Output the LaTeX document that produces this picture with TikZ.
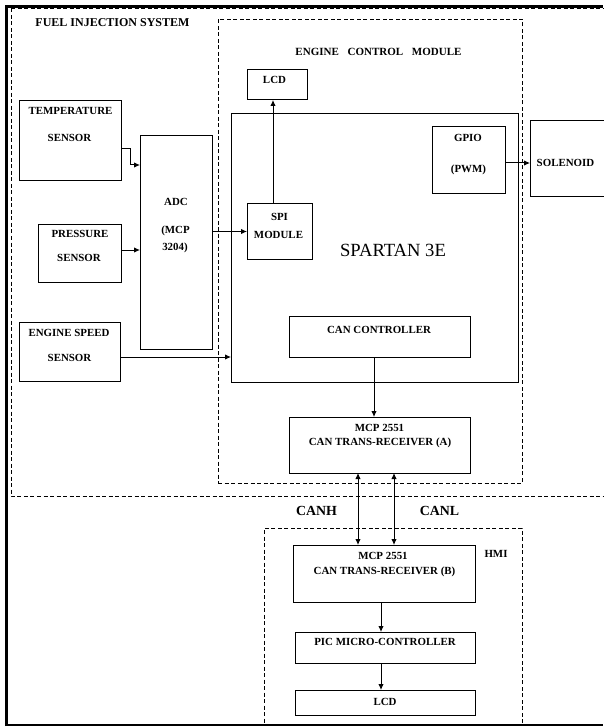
\documentclass[tikz,border=0pt]{standalone}
\usepackage{fontspec}
\setmainfont{Liberation Serif}
\usetikzlibrary{arrows.meta}
\begin{document}
\begin{tikzpicture}[x=1pt,y=-1pt,
  box/.style={draw, line width=1pt, inner sep=0pt, outer sep=0pt, anchor=north west},
  zone/.style={draw, line width=0.9pt, dash pattern=on 4pt off 2.5pt, inner sep=0pt, outer sep=0pt, anchor=north west},
  lbl/.style={inner sep=0pt, anchor=base, font=\fontsize{10.9}{12}\selectfont\bfseries},
  biglbl/.style={inner sep=0pt, anchor=base, font=\fontsize{13.9}{15}\selectfont\bfseries},
  arr/.style={line width=1pt, -{Latex[length=6pt,width=5.5pt]}},
  darr/.style={line width=1pt, {Latex[length=6pt,width=5.5pt]}-{Latex[length=6pt,width=5.5pt]}}]
\useasboundingbox (0,0) rectangle (603,727);
% outer frame
\draw[line width=0.9pt, dash pattern=on 4pt off 2.5pt] (11,8.5) -- (11,496) -- (603,496);
\draw[line width=0.9pt, dash pattern=on 4pt off 2.5pt] (11,8.5) -- (603,8.5);
\draw[line width=2.6pt] (6.5,726) -- (6.5,6.5) -- (603,6.5);
\draw[line width=1.5pt] (6.5,725) -- (603,725);
% zones
\node[zone, minimum width=304pt, minimum height=464pt] (ecm) at (218,19) {};
\node[zone, minimum width=258pt, minimum height=197pt] (hmi) at (264,528) {};
% boxes
\node[box, minimum width=60pt, minimum height=30pt] (lcdA) at (247,70) {};
\node[box, minimum width=287pt, minimum height=268pt] (spartan) at (231,114) {};
\node[box, minimum width=73pt, minimum height=67pt] (gpio) at (432,127) {};
\node[box, minimum width=90pt, minimum height=76pt] (sol) at (530,121) {};
\node[box, minimum width=102pt, minimum height=80pt] (temp) at (19,101) {};
\node[box, minimum width=72pt, minimum height=213pt] (adc) at (140,136) {};
\node[box, minimum width=83pt, minimum height=58pt] (press) at (38,224) {};
\node[box, minimum width=101pt, minimum height=59pt] (speed) at (19,322) {};
\node[box, minimum width=65pt, minimum height=55pt] (spi) at (247,204) {};
\node[box, minimum width=181pt, minimum height=41pt] (canc) at (289,316) {};
\node[box, minimum width=181pt, minimum height=56pt] (mcpa) at (289,417) {};
\node[box, minimum width=182pt, minimum height=57pt] (mcpb) at (293,545) {};
\node[box, minimum width=180pt, minimum height=31pt] (pic) at (295,632) {};
\node[box, minimum width=180pt, minimum height=25pt] (lcdB) at (295,690) {};
% labels
\node[lbl, font=\fontsize{12}{13}\selectfont\bfseries] (tfis) at (112.5,26.5) {FUEL INJECTION SYSTEM};
\node[lbl, font=\fontsize{11}{12}\selectfont\bfseries] (tecm) at (378.5,55.6) {ENGINE\hspace{6pt} CONTROL\hspace{6pt} MODULE};
\node[lbl] (tlcdA) at (274.5,83.6) {LCD};
\node[lbl] (ttemp1) at (70.5,114.1) {TEMPERATURE};
\node[lbl] (ttemp2) at (69.5,141.6) {SENSOR};
\node[lbl] (tpress1) at (80,237.6) {PRESSURE};
\node[lbl] (tpress2) at (79,261.6) {SENSOR};
\node[lbl] (tspeed1) at (69,336.6) {ENGINE SPEED};
\node[lbl] (tspeed2) at (69.5,361.1) {SENSOR};
\node[lbl] (tadc1) at (176,205.1) {ADC};
\node[lbl] (tadc2) at (175.5,233.1) {(MCP};
\node[lbl] (tadc3) at (175,250.6) {3204)};
\node[lbl] (tspi1) at (279.5,220.6) {SPI};
\node[lbl] (tspi2) at (278.5,238.6) {MODULE};
\node[lbl] (tgpio1) at (468,141.6) {GPIO};
\node[lbl] (tgpio2) at (468.5,172.6) {(PWM)};
\node[lbl] (tsol) at (565.5,166.6) {SOLENOID};
\node[inner sep=0pt, anchor=base, font=\fontsize{18.6}{20}\selectfont] (tspartan) at (393,256.6) {SPARTAN 3E};
\node[lbl] (tcanc) at (379,333.1) {CAN CONTROLLER};
\node[lbl] (tmcpa1) at (379.5,431.1) {MCP 2551};
\node[lbl] (tmcpa2) at (380,445.1) {CAN TRANS-RECEIVER (A)};
\node[biglbl] (tcanh) at (316.5,515.6) {CANH};
\node[biglbl] (tcanl) at (439.5,515.6) {CANL};
\node[lbl] (tmcpb1) at (383,559.6) {MCP 2551};
\node[lbl] (tmcpb2) at (384.5,574.1) {CAN TRANS-RECEIVER (B)};
\node[lbl] (thmi) at (496,557.6) {HMI};
\node[lbl] (tpic) at (385,645.6) {PIC MICRO-CONTROLLER};
\node[lbl] (tlcdB) at (385,705.6) {LCD};
% connectors
\draw[arr] ([yshift=-8pt]temp.east) -- ++(9,0) |- ([yshift=77.5pt]adc.west);
\draw[arr] ([yshift=3pt]press.east) coordinate (p1) -- (adc.west |- p1);
\draw[arr] ([yshift=-5.5pt]speed.east) coordinate (p2) -- (spartan.west |- p2);
\draw[arr] (adc.east |- spi.west) -- (spi.west);
\draw[arr] ([xshift=-6.5pt]spi.north) coordinate (p3) -- (lcdA.south -| p3);
\draw[arr] ([yshift=-2.5pt]gpio.east) coordinate (p4) -- (sol.west |- p4);
\draw[arr] ([xshift=-5.5pt]canc.south) coordinate (p5) -- (mcpa.north -| p5);
\draw[darr] ([xshift=-21.5pt]mcpa.south) coordinate (p6) -- (mcpb.north -| p6);
\draw[darr] ([xshift=14.5pt]mcpa.south) coordinate (p7) -- (mcpb.north -| p7);
\draw[arr] ([xshift=-3pt]mcpb.south) coordinate (p8) -- (pic.north -| p8);
\draw[arr] (pic.south -| p8) -- (lcdB.north -| p8);
\end{tikzpicture}
\end{document}
